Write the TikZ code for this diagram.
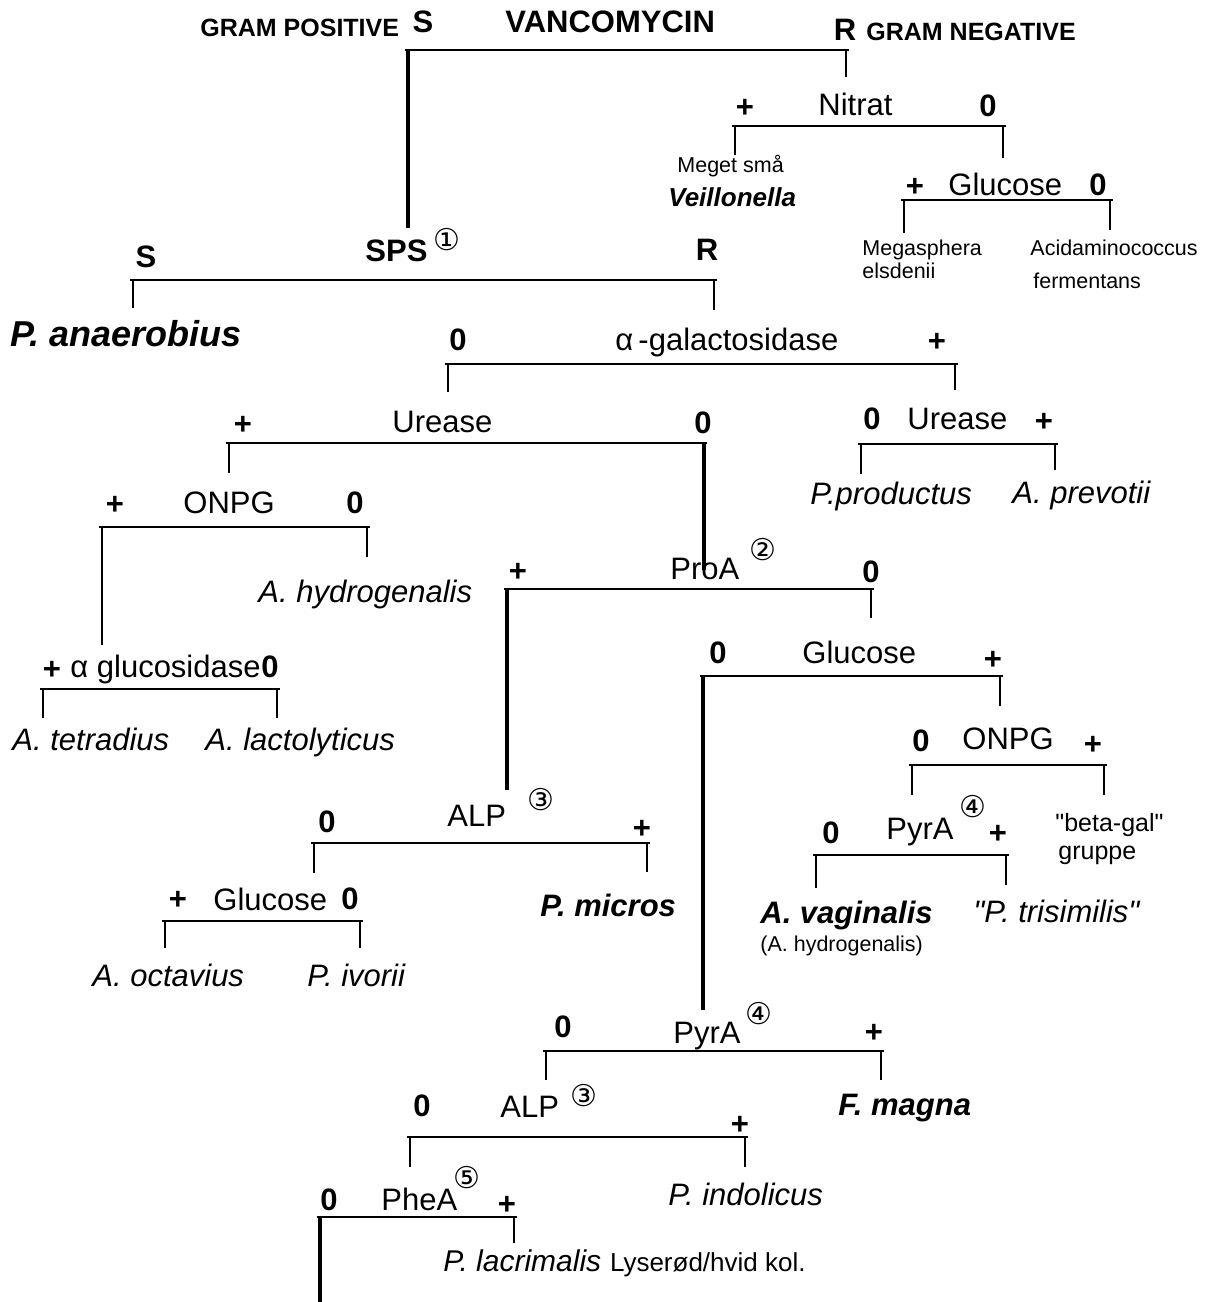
\documentclass[tikz,border=0pt]{standalone}
\usepackage{fontspec}
\setmainfont{Liberation Sans}
\newfontfamily\circfont{DejaVu Sans}

\begin{document}
\begin{tikzpicture}[
    x=0.5pt, y=-0.5pt,
    lbl/.style={inner sep=0pt, font=\fontsize{15.5}{18}\selectfont},
    test/.style={lbl, anchor=base west},
    sign/.style={lbl, font=\fontsize{15.5}{18}\selectfont\bfseries},
    bhead/.style={test, font=\fontsize{15.5}{18}\selectfont\bfseries},
    gram/.style={test, font=\fontsize{12.5}{14}\selectfont\bfseries},
    taxon/.style={test, font=\fontsize{15.5}{18}\selectfont\itshape},
    taxonb/.style={test, font=\fontsize{15.5}{18}\selectfont\bfseries\itshape},
    note/.style={test, font=\fontsize{10.75}{13}\selectfont},
    mid/.style={test, font=\fontsize{12.5}{15}\selectfont},
    circnum/.style={lbl, font=\fontsize{15}{17}\selectfont\circfont},
    bar/.style={line width=0.8pt, shorten <=-1.5pt, shorten >=-1.5pt}
  ]
    \useasboundingbox (0,0) rectangle (1206,1302);

    % test bars: name / left x / right x / y / left drop / right drop / widths
    \foreach \n/\xl/\xr/\y/\dl/\dr/\wl/\wr in {
        van/408/846/50/228/77/1.6/0.8,
        nit/735/1003/126/155/158/0.8/1.3,
        gneg/904/1110/200/233/230/0.8/0.8,
        sps/133/714/280/308/310/0.8/0.8,
        gal/448/955/364/392/390/0.8/0.8,
        urel/229/704/443/473/570/0.8/1.6,
        urer/861/1055/444/474/470/0.8/0.8,
        onpgl/102/367/527/645/557/1.2/0.8,
        proa/507/871/589/790/618/1.6/0.8,
        aglu/43/277/689/718/718/0.8/0.8,
        glum/703/1000/676/1010/706/1.6/0.8,
        onpgr/912/1104/765/795/795/0.8/0.8,
        pyrr/816/1006/855/888/885/0.8/0.8,
        alpa/314/647/843/873/872/0.8/0.8,
        glul/165/360/921/948/948/0.8/0.8,
        pyrl/546/881/1051/1080/1080/0.8/0.8,
        alpl/410/745/1137/1167/1167/0.8/0.8,
        phea/320/514/1217/1302/1243/1.6/0.8}
    {
      \coordinate (\n-l) at (\xl,\y);
      \coordinate (\n-r) at (\xr,\y);
      \coordinate (\n-ld) at (\xl,\dl);
      \coordinate (\n-rd) at (\xr,\dr);
      \draw[bar] (\n-l) -- (\n-r);
      \draw[line width=\wl pt] (\n-l) -- (\n-ld);
      \draw[line width=\wr pt] (\n-r) -- (\n-rd);
    }

    % vancomycin
    \node[gram] (grampos) at (200,36) {GRAM POSITIVE};
    \node[sign] (vanS) at (423,22) {S};
    \node[bhead] (van) at (505,32) {VANCOMYCIN};
    \node[sign] (vanR) at (845,30) {R};
    \node[gram] (gramneg) at (866,40) {GRAM NEGATIVE};

    % nitrat
    \node[sign] (nitP) at (745,108) {+};
    \node[test] (nit) at (818,115) {Nitrat};
    \node[sign] (nit0) at (988,106) {0};
    \node[note] (veila) at (677,172) {Meget små};
    \node[taxonb, font=\fontsize{13}{15}\selectfont\bfseries\itshape] (veil) at (668,206) {Veillonella};

    % glucose, gram negative
    \node[sign] (gnegP) at (915,187) {+};
    \node[test] (gneg) at (948,195) {Glucose};
    \node[sign] (gneg0) at (1098,185) {0};
    \node[note] (mega) at (862,255) {Megasphera};
    \node[note] (megb) at (862,278) {elsdenii};
    \node[note] (acid) at (1030,255) {Acidaminococcus};
    \node[note] (acidb) at (1033,288) {fermentans};

    % SPS
    \node[sign] (spsS) at (146,257) {S};
    \node[bhead] (sps) at (365,261) {SPS};
    \node[circnum] (c1) at (447,240) {①};
    \node[sign] (spsR) at (707,250) {R};
    \node[taxonb, font=\fontsize{18}{20}\selectfont\bfseries\itshape] (anaer) at (10,346) {P. anaerobius};

    % alpha-galactosidase
    \node[sign] (gal0) at (458,340) {0};
    \node[test] (gal) at (615,350) {α\,-galactosidase};
    \node[sign] (galP) at (937,342) {+};

    % urease
    \node[sign] (urelP) at (243,425) {+};
    \node[test] (urel) at (392,432) {Urease};
    \node[sign] (urel0) at (703,423) {0};
    \node[sign] (urer0) at (872,419) {0};
    \node[test] (urer) at (907,429) {Urease};
    \node[sign] (urerP) at (1044,422) {+};
    \node[taxon] (prod) at (810,504) {P.productus};
    \node[taxon] (prev) at (1012,503) {A. prevotii};

    % ONPG
    \node[sign] (onpglP) at (115,505) {+};
    \node[test] (onpgl) at (183,513) {ONPG};
    \node[sign] (onpgl0) at (355,503) {0};
    \node[taxon] (hydro) at (258,602) {A. hydrogenalis};

    % ProA
    \node[sign] (proaP) at (518,572) {+};
    \node[test] (proa) at (670,579) {ProA};
    \node[circnum] (c2) at (763,550) {②};
    \node[sign] (proa0) at (871,572) {0};

    % alpha glucosidase
    \node[sign] (agluP) at (52,670) {+};
    \node[test] (aglu) at (70,677) {α glucosidase};
    \node[sign, anchor=base west] (aglu0) at (aglu.base east) {0};
    \node[taxon] (tetra) at (12,750) {A. tetradius};
    \node[taxon] (lacto) at (205,750) {A. lactolyticus};

    % glucose
    \node[sign] (glum0) at (718,653) {0};
    \node[test] (glum) at (802,663) {Glucose};
    \node[sign] (glumP) at (993,660) {+};

    % ONPG, glucose positive
    \node[sign] (onpgr0) at (921,741) {0};
    \node[test] (onpgr) at (962,749) {ONPG};
    \node[sign] (onpgrP) at (1093,745) {+};
    \node[mid] (beta) at (1055,831) {\textquotedbl beta-gal\textquotedbl};
    \node[mid] (gruppe) at (1058,859) {gruppe};

    % PyrA
    \node[sign] (pyrr0) at (831,833) {0};
    \node[test] (pyrr) at (886,839) {PyrA};
    \node[circnum] (c4a) at (973,807) {④};
    \node[sign] (pyrrP) at (998,834) {+};
    \node[taxonb] (vagin) at (760,923) {A. vaginalis};
    \node[note] (vaginb) at (760,951) {(A. hydrogenalis)};
    \node[taxon] (trisim) at (973,922) {\textquotedbl P. trisimilis\textquotedbl};

    % ALP
    \node[sign] (alpa0) at (327,822) {0};
    \node[test] (alpa) at (447,826) {ALP};
    \node[circnum] (c3a) at (541,800) {③};
    \node[sign] (alpaP) at (642,829) {+};
    \node[taxonb] (micros) at (540,916) {P. micros};

    % glucose, ALP negative
    \node[sign] (glulP) at (178,900) {+};
    \node[test] (glul) at (213,910) {Glucose};
    \node[sign] (glul0) at (350,899) {0};
    \node[taxon] (octa) at (92,986) {A. octavius};
    \node[taxon] (ivor) at (307,986) {P. ivorii};

    % PyrA, glucose negative
    \node[sign] (pyrl0) at (563,1027) {0};
    \node[test] (pyrl) at (673,1043) {PyrA};
    \node[circnum] (c4b) at (759,1014) {④};
    \node[sign] (pyrlP) at (874,1033) {+};
    \node[taxonb] (magna) at (838,1115) {F. magna};

    % ALP, PyrA negative
    \node[sign] (alpl0) at (422,1106) {0};
    \node[test] (alpl) at (500,1117) {ALP};
    \node[circnum] (c3b) at (584,1096) {③};
    \node[sign] (alplP) at (740,1125) {+};
    \node[taxon] (indol) at (668,1205) {P. indolicus};

    % PheA
    \node[sign] (phea0) at (329,1200) {0};
    \node[test] (phea) at (381,1210) {PheA};
    \node[circnum] (c5) at (467,1178) {⑤};
    \node[sign] (pheaP) at (507,1205) {+};
    \node[taxon, font=\fontsize{15}{17}\selectfont\itshape] (lacri) at (443,1271) {P. lacrimalis};
    \node[mid, font=\fontsize{13}{15}\selectfont, anchor=base west] (lacrib) at ([xshift=4pt]lacri.base east) {Lyserød/hvid kol.};
\end{tikzpicture}
\end{document}
